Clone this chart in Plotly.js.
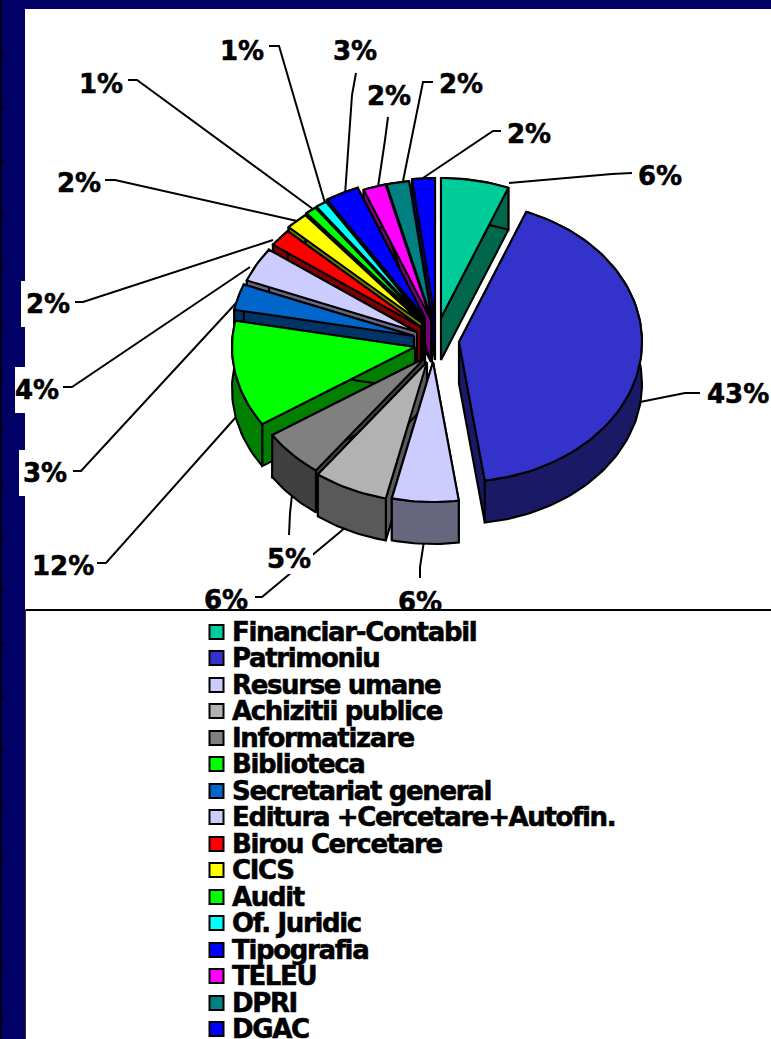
<!DOCTYPE html>
<html><head><meta charset="utf-8">
<script src="https://cdn.plot.ly/plotly-3.0.1.min.js"></script>
<style>
html,body{margin:0;padding:0;background:#fff;overflow:hidden}
.textpoint text{stroke:#000;stroke-width:.55px}
.subplot.xy2 .textpoint text{letter-spacing:-1.35px}
</style></head><body><div id="chart" style="width:771px;height:1039px"></div>
<script>
// DATA
const categories = ["Financiar-Contabil","Patrimoniu","Resurse umane","Achizitii publice","Informatizare","Biblioteca","Secretariat general","Editura +Cercetare+Autofin.","Birou Cercetare","CICS","Audit","Of. Juridic","Tipografia","TELEU","DPRI","DGAC"];
const percentValues = [6,43,6,6,5,12,3,4,2,2,1,1,3,2,2,2];
// STYLE
const sliceColors = ["#00cc99","#3333cc","#ccccff","#b2b2b2","#808080","#00ff00","#0066cc","#ccccff","#ff0000","#ffff00","#00ff00","#00ffff","#0000ff","#ff00ff","#008080","#0000ff"];
// GEOMETRY (exploded 3-D view)
const apexX = [441,459,433,427,425,415,414,417,421,422,423,424,425,431,432,435];
const apexY = [318,342,362,362,358,347,336,332,327,323,321,320,318,320,320,318];
const endSkewDeg = [0,-4.5,-5,-3,-1,0,0,0,0,0,0,0,0,0,0,0];
const radiusX = 183, radiusY = 140, depth = 42;
const labelLeft = [638,707,398,204,267,32,23,15,26,57,79,220,333,367,439,507];
const labelMid  = [178,396,604,602,561,568,475,392,306,185,86,53,53,98,86,136];
const boxPad = [null,null,null,null,[266,545,313,574],null,[19,450,70,496],[15,367,60,413],[21,281,72,327],null,null,null,null,null,null,null];
const leaderX = [[632,612,509],[700,685,640],[420,420,424],[255,262,346],[289,290,292],[97,106,236],[73,81,237],[63,72,250],[75,83,273],[105,115,297],[128,137,317],[269,279,325],[356,352,345],[388,385,378],[433,423,403],[501,493,423]];
const leaderY = [[173,174,183],[393,393,402],[578,567,541],[597,597,527],[535,513,495],[563,563,417],[471,471,302],[387,387,267],[302,302,240],[180,180,221],[80,80,212],[46,46,203],[73,95,195],[117,140,187],[82,82,181],[131,131,178]];

function darken(hex){const n=parseInt(hex.slice(1),16);
  return `rgb(${(n>>16&255)>>1},${(n>>8&255)>>1},${(n&255)>>1})`;}
const total = percentValues.reduce((a,b)=>a+b,0);
const toRad = Math.PI/180;
let cum = 0;
const bounds = percentValues.map((v,i)=>{const s=cum; cum+=v;
  const skewS = i? endSkewDeg[i-1]:0;
  return {i, a:s/total*360+skewS, b:cum/total*360+endSkewDeg[i]};});
function rim(i,t,dz){return [apexX[i]+radiusX*Math.sin(t*toRad), apexY[i]-radiusY*Math.cos(t*toRad)+dz];}
const poly=(pts,name,fill)=>({type:'scatter',mode:'lines',x:pts.map(p=>p[0]),y:pts.map(p=>p[1]),fill:'toself',fillcolor:fill,
  line:{color:'#000',width:2.1},name,hoverinfo:'name',showlegend:false,xaxis:'x',yaxis:'y'});
const arcPts=(i,a,b,dz)=>{const r=[];const n=Math.max(4,Math.ceil(Math.abs(b-a)/1.5));for(let k=0;k<=n;k++)r.push(rim(i,a+(b-a)*k/n,dz));return r;};

const order = bounds.slice().sort((p,q)=>Math.cos((q.a+q.b)/2*toRad)-Math.cos((p.a+p.b)/2*toRad));
const traces=[];
// leader lines under the slices
categories.forEach((c,i)=>traces.push({type:'scatter',mode:'lines',x:leaderX[i],y:leaderY[i],line:{color:'#000',width:2},name:c+' leader',hoverinfo:'skip',showlegend:false,xaxis:'x',yaxis:'y'}));
// white boxes behind some labels
boxPad.forEach((b,i)=>{if(!b)return;traces.push({type:'scatter',mode:'lines',x:[b[0],b[2],b[2],b[0],b[0]],y:[b[1],b[1],b[3],b[3],b[1]],fill:'toself',fillcolor:'#fff',line:{width:0,color:'#fff'},hoverinfo:'skip',showlegend:false,xaxis:'x',yaxis:'y'});});
order.forEach(s=>{
  const i=s.i, dark=darken(sliceColors[i]), name=categories[i];
  const A=[apexX[i],apexY[i]], Ad=[apexX[i],apexY[i]+depth];
  traces.push(poly([A,rim(i,s.a,0),rim(i,s.a,depth),Ad,A],name,dark));
  traces.push(poly([A,rim(i,s.b,0),rim(i,s.b,depth),Ad,A],name,dark));
  const top=arcPts(i,s.a,s.b,0), bot=arcPts(i,s.b,s.a,depth);
  traces.push(poly(top.concat(bot,[top[0]]),name,dark));
  traces.push(poly([A].concat(top,[A]),name,sliceColors[i]));
});
// percent labels
traces.push({type:'scatter',mode:'text',x:labelLeft,y:labelMid,text:percentValues.map(v=>v+'%'),textposition:'middle right',
  textfont:{family:'DejaVu Sans',size:26,color:'#000',weight:700},hoverinfo:'skip',showlegend:false,xaxis:'x',yaxis:'y'});
// legend
const rowY = categories.map((c,i)=>Math.round(632+26.47*i));
const rowTextY = rowY.map(y=>y+2);
traces.push({type:'scatter',mode:'markers',x:categories.map(()=>216.5),y:rowY,
  marker:{symbol:'square',size:14,color:sliceColors,line:{color:'#000',width:2}},text:categories,hoverinfo:'text',showlegend:false,xaxis:'x',yaxis:'y2'});
traces.push({type:'scatter',mode:'text',x:categories.map(()=>232),y:rowTextY,text:categories,textposition:'middle right',
  textfont:{family:'DejaVu Sans',size:26,color:'#000',weight:700},hoverinfo:'skip',showlegend:false,xaxis:'x',yaxis:'y2',cliponaxis:false});

const navy='#000066';
const shapes=[
 {type:'rect',xref:'x',yref:'paper',x0:0,x1:25,y0:0,y1:1,fillcolor:navy,line:{width:0},layer:'below'},
 {type:'rect',xref:'x',yref:'paper',x0:0,x1:771,y0:1-9/1039,y1:1,fillcolor:navy,line:{width:0},layer:'below'},
 {type:'line',xref:'x',yref:'paper',x0:0.7,x1:0.7,y0:0,y1:1,line:{color:'#000',width:1.5},layer:'below'},
 {type:'line',xref:'x',yref:'paper',x0:25.5,x1:771,y0:1-610/1039,y1:1-610/1039,line:{color:'#000',width:2},layer:'above'},
 {type:'line',xref:'x',yref:'paper',x0:25.5,x1:25.5,y0:0,y1:1-610/1039,line:{color:'#333',width:1},layer:'above'}
];
for(let y=53;y<1039;y+=53.6){shapes.push({type:'line',xref:'x',yref:'paper',x0:0,x1:3,y0:1-y/1039,y1:1-(y+2)/1039,line:{color:'#000',width:2},layer:'below'});}

const hidden={visible:false,showgrid:false,zeroline:false,fixedrange:true};
Plotly.newPlot('chart',traces,{
  width:771,height:1039,margin:{l:0,r:0,t:0,b:0},paper_bgcolor:'#fff',plot_bgcolor:'rgba(0,0,0,0)',showlegend:false,
  xaxis:Object.assign({range:[0,771]},hidden),
  yaxis:Object.assign({range:[609,0],domain:[1-609/1039,1]},hidden),
  yaxis2:Object.assign({range:[1039,611],domain:[0,1-611/1039]},hidden),
  shapes
},{displayModeBar:false,staticPlot:true});
</script></body></html>
